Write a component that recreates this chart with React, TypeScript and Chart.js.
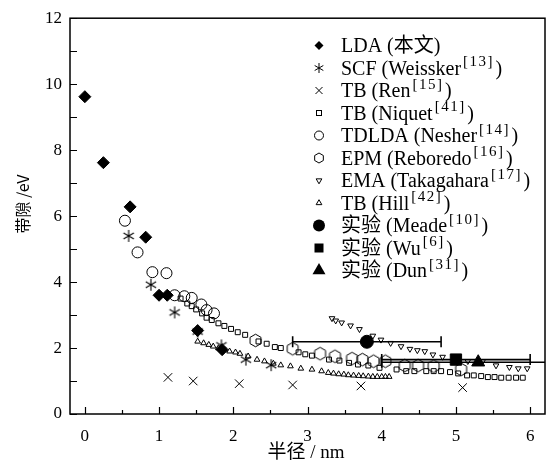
import React, { useEffect, useRef } from 'react';
import { Chart, registerables } from 'chart.js';

Chart.register(...registerables);

// ---------- data ----------
const ldaX = [0, 0.25, 0.61, 0.82, 1.0, 1.11, 1.52, 1.85];
const ldaY = [9.62, 7.62, 6.28, 5.36, 3.6, 3.6, 2.53, 1.95];

const scfX = [0.59, 0.89, 1.21, 1.52, 1.84, 2.17, 2.51];
const scfY = [5.4, 3.92, 3.08, 2.5, 2.08, 1.65, 1.48];

const renX = [1.12, 1.46, 2.08, 2.8, 3.72, 5.09];
const renY = [1.11, 1.0, 0.92, 0.88, 0.85, 0.8];

const niquetX = [1.29, 1.38, 1.44, 1.5, 1.58, 1.64, 1.71, 1.8, 1.88, 1.97, 2.06, 2.16, 2.34, 2.45, 2.56, 2.64, 2.88, 2.97, 3.06, 3.29, 3.43, 3.56, 3.68, 3.82, 3.97, 4.2, 4.33, 4.44, 4.6, 4.7, 4.8, 4.92, 5.03, 5.15, 5.24, 5.34, 5.43, 5.52, 5.61, 5.71, 5.81, 5.9];
const niquetY = [3.5, 3.35, 3.27, 3.17, 3.05, 2.92, 2.85, 2.75, 2.67, 2.58, 2.48, 2.4, 2.2, 2.13, 2.03, 2.0, 1.87, 1.81, 1.77, 1.65, 1.62, 1.55, 1.5, 1.47, 1.4, 1.35, 1.3, 1.3, 1.3, 1.3, 1.3, 1.27, 1.23, 1.17, 1.17, 1.15, 1.12, 1.12, 1.1, 1.1, 1.1, 1.1];

const tdldaX = [0.54, 0.71, 0.91, 1.1, 1.21, 1.34, 1.44, 1.57, 1.64, 1.74];
const tdldaY = [5.86, 4.9, 4.3, 4.27, 3.6, 3.57, 3.52, 3.32, 3.15, 3.05];

const epmX = [2.3, 2.8, 3.17, 3.37, 3.6, 3.74, 3.89, 4.05, 4.31, 4.49, 4.7, 5.07];
const epmY = [2.23, 1.98, 1.83, 1.75, 1.68, 1.65, 1.6, 1.6, 1.47, 1.47, 1.45, 1.35];

const emaX = [3.33, 3.38, 3.46, 3.58, 3.7, 3.88, 3.99, 4.12, 4.26, 4.38, 4.48, 4.58, 4.69, 4.82, 5.16, 5.36, 5.54, 5.72, 5.84, 5.96];
const emaY = [2.9, 2.83, 2.77, 2.68, 2.57, 2.37, 2.25, 2.15, 2.05, 1.97, 1.93, 1.9, 1.8, 1.73, 1.6, 1.6, 1.47, 1.42, 1.38, 1.38];

const hillX = [1.52, 1.6, 1.67, 1.73, 1.8, 1.95, 2.03, 2.09, 2.2, 2.32, 2.42, 2.54, 2.64, 2.77, 2.91, 3.06, 3.19, 3.28, 3.35, 3.42, 3.49, 3.55, 3.62, 3.69, 3.75, 3.82, 3.88, 3.94, 4.0, 4.05, 4.1];
const hillY = [2.2, 2.15, 2.1, 2.05, 2.0, 1.9, 1.87, 1.83, 1.75, 1.65, 1.6, 1.53, 1.48, 1.45, 1.38, 1.35, 1.3, 1.25, 1.23, 1.21, 1.2, 1.18, 1.17, 1.16, 1.15, 1.14, 1.13, 1.13, 1.13, 1.13, 1.13];

const meadeX = [3.8];
const meadeY = [2.19];
const meadeErr = [1.0];

const wuX = [5.0];
const wuY = [1.65];
const wuErr = [1.0];

const dunX = [5.3];
const dunY = [1.57];
const dunErr = [1.3];

const xTickValues = [0, 0.5, 1, 1.5, 2, 2.5, 3, 3.5, 4, 4.5, 5, 5.5, 6];
const yTickValues = [0, 1, 2, 3, 4, 5, 6, 7, 8, 9, 10, 11, 12];

const legendMain = ['LDA (本文)', 'SCF (Weissker', 'TB (Ren', 'TB (Niquet', 'TDLDA (Nesher', 'EPM (Reboredo', 'EMA (Takagahara', 'TB (Hill', '实验 (Meade', '实验 (Wu', '实验 (Dun'];
const legendSup = ['', '[13]', '[15]', '[41]', '[14]', '[16]', '[17]', '[42]', '[10]', '[6]', '[31]'];
const legendKinds = ['diamond', 'asterisk', 'cross', 'squareOpen', 'circleOpen', 'hexagon', 'triDownOpen', 'triUpOpen', 'circleFilled', 'squareFilled', 'triUpFilled'];

const xTitle = '半径 / nm';
const yTitle = '带隙 /eV';

// ---------- helpers ----------
const toPts = (xs: number[], ys: number[]) => xs.map((x, i) => ({ x, y: ys[i] }));

function pathAsterisk(ctx: CanvasRenderingContext2D, cx: number, cy: number, r: number) {
  ctx.beginPath();
  for (let k = 0; k < 3; k++) {
    const a = Math.PI / 2 + (k * Math.PI) / 3;
    ctx.moveTo(cx - Math.cos(a) * r, cy - Math.sin(a) * r);
    ctx.lineTo(cx + Math.cos(a) * r, cy + Math.sin(a) * r);
  }
}

function pathHexagon(ctx: CanvasRenderingContext2D, cx: number, cy: number, r: number) {
  ctx.beginPath();
  for (let k = 0; k < 6; k++) {
    const a = Math.PI / 2 + (k * Math.PI) / 3;
    const px = cx + Math.cos(a) * r;
    const py = cy + Math.sin(a) * r;
    if (k === 0) ctx.moveTo(px, py);
    else ctx.lineTo(px, py);
  }
  ctx.closePath();
}

function makeCanvas(kind: 'asterisk' | 'hexagon', r: number, lw: number) {
  const c = document.createElement('canvas');
  const s = Math.ceil(2 * r + 4);
  c.width = s;
  c.height = s;
  const ctx = c.getContext('2d')!;
  ctx.strokeStyle = '#000';
  ctx.lineWidth = lw;
  if (kind === 'asterisk') pathAsterisk(ctx, s / 2, s / 2, r);
  else pathHexagon(ctx, s / 2, s / 2, r);
  ctx.stroke();
  return c;
}

function drawSymbol(ctx: CanvasRenderingContext2D, kind: string, x: number, y: number) {
  ctx.save();
  ctx.strokeStyle = '#000';
  ctx.fillStyle = '#000';
  ctx.lineWidth = 1;
  const tri = (r: number, down: boolean) => {
    const s = down ? -1 : 1;
    ctx.beginPath();
    ctx.moveTo(x, y - s * r);
    ctx.lineTo(x + r * 0.866, y + s * r * 0.5);
    ctx.lineTo(x - r * 0.866, y + s * r * 0.5);
    ctx.closePath();
  };
  switch (kind) {
    case 'diamond':
      ctx.beginPath();
      ctx.moveTo(x, y - 4.5);
      ctx.lineTo(x + 4.5, y);
      ctx.lineTo(x, y + 4.5);
      ctx.lineTo(x - 4.5, y);
      ctx.closePath();
      ctx.fill();
      break;
    case 'asterisk':
      pathAsterisk(ctx, x, y, 5);
      ctx.stroke();
      break;
    case 'cross':
      ctx.beginPath();
      ctx.moveTo(x - 3.5, y - 3.5);
      ctx.lineTo(x + 3.5, y + 3.5);
      ctx.moveTo(x + 3.5, y - 3.5);
      ctx.lineTo(x - 3.5, y + 3.5);
      ctx.stroke();
      break;
    case 'squareOpen':
      ctx.strokeRect(x - 2.5, y - 2.5, 5, 5);
      break;
    case 'circleOpen':
      ctx.beginPath();
      ctx.arc(x, y, 4.5, 0, Math.PI * 2);
      ctx.stroke();
      break;
    case 'hexagon':
      pathHexagon(ctx, x, y, 5);
      ctx.stroke();
      break;
    case 'triDownOpen':
      tri(3.3, true);
      ctx.stroke();
      break;
    case 'triUpOpen':
      tri(3.3, false);
      ctx.stroke();
      break;
    case 'circleFilled':
      ctx.beginPath();
      ctx.arc(x, y, 6, 0, Math.PI * 2);
      ctx.fill();
      break;
    case 'squareFilled':
      ctx.fillRect(x - 4.5, y - 4.5, 9, 9);
      break;
    case 'triUpFilled':
      tri(7.5, false);
      ctx.fill();
      break;
  }
  ctx.restore();
}

const SERIF = '"Liberation Serif", "Noto Sans CJK SC", serif';

const decorPlugin = {
  id: 'decor',
  beforeDatasetsDraw(chart: any) {
    const { ctx, chartArea: a, scales } = chart;
    const xs = scales.x;
    const ys = scales.y;
    const bars = [
      { x: meadeX, y: meadeY, e: meadeErr },
      { x: wuX, y: wuY, e: wuErr },
      { x: dunX, y: dunY, e: dunErr },
    ];
    ctx.save();
    ctx.beginPath();
    ctx.rect(a.left, a.top, a.right - a.left, a.bottom - a.top);
    ctx.clip();
    ctx.strokeStyle = '#000';
    ctx.lineWidth = 1.6;
    bars.forEach((b) => {
      b.x.forEach((xv, i) => {
        const py = ys.getPixelForValue(b.y[i]);
        const p1 = xs.getPixelForValue(xv - b.e[i]);
        const p2 = xs.getPixelForValue(xv + b.e[i]);
        ctx.beginPath();
        ctx.moveTo(p1, py);
        ctx.lineTo(p2, py);
        ctx.moveTo(p1, py - 5.5);
        ctx.lineTo(p1, py + 5.5);
        ctx.moveTo(p2, py - 5.5);
        ctx.lineTo(p2, py + 5.5);
        ctx.stroke();
      });
    });
    ctx.restore();
  },
  afterDatasetsDraw(chart: any) {
    const { ctx, chartArea: a, scales } = chart;
    ctx.save();
    ctx.strokeStyle = '#000';
    ctx.lineWidth = 1.5;
    ctx.strokeRect(a.left, a.top, a.right - a.left, a.bottom - a.top);
    ctx.lineWidth = 1.2;
    ctx.beginPath();
    xTickValues.forEach((v) => {
      const px = Math.round(scales.x.getPixelForValue(v)) + 0.5;
      const len = Number.isInteger(v) ? 7 : 4;
      ctx.moveTo(px, a.bottom);
      ctx.lineTo(px, a.bottom - len);
    });
    yTickValues.forEach((v) => {
      const py = Math.round(scales.y.getPixelForValue(v)) + 0.5;
      ctx.moveTo(a.left, py);
      ctx.lineTo(a.left + 7, py);
    });
    ctx.stroke();
    ctx.restore();
  },
  afterDraw(chart: any) {
    const { ctx } = chart;
    ctx.save();
    // legend
    const row0 = 45.5;
    const dy = 22.5;
    legendMain.forEach((label, i) => {
      const cy = row0 + i * dy;
      drawSymbol(ctx, legendKinds[i], 319, cy);
      const base = cy + 6.5;
      ctx.fillStyle = '#000';
      ctx.textBaseline = 'alphabetic';
      ctx.textAlign = 'left';
      ctx.font = '20px ' + SERIF;
      ctx.fillText(label, 341, base);
      let sx = 341 + ctx.measureText(label).width;
      const sup = legendSup[i];
      if (sup) {
        sx += 2;
        ctx.font = '15px ' + SERIF;
        for (const ch of sup) {
          ctx.fillText(ch, sx, base - 8.5);
          sx += ctx.measureText(ch).width + 1.5;
        }
        ctx.font = '20px ' + SERIF;
        ctx.fillText(')', sx + 1.5, base);
      }
    });
    // axis titles
    ctx.fillStyle = '#000';
    ctx.textAlign = 'center';
    ctx.textBaseline = 'middle';
    ctx.font = '19px ' + SERIF;
    ctx.fillText(xTitle, 306, 453);
    ctx.translate(23, 204);
    ctx.rotate(-Math.PI / 2);
    ctx.font = '16px "Noto Sans CJK SC", "DejaVu Sans", sans-serif';
    ctx.fillText(yTitle, 0, 0);
    ctx.restore();
  },
};

export default function App() {
  const ref = useRef<HTMLCanvasElement | null>(null);

  useEffect(() => {
    if (!ref.current) return;
    const asterisk = makeCanvas('asterisk', 6, 1.1);
    const hexagon = makeCanvas('hexagon', 6.3, 1);
    const transparent = 'rgba(0,0,0,0)';

    const chart = new Chart(ref.current, {
      type: 'scatter',
      data: {
        datasets: [
          { label: 'TB (Niquet)', data: toPts(niquetX, niquetY), pointStyle: 'rect', pointRadius: 3.5, backgroundColor: transparent, borderColor: '#000', borderWidth: 1 },
          { label: 'TB (Hill)', data: toPts(hillX, hillY), pointStyle: 'triangle', pointRadius: 3.3, backgroundColor: transparent, borderColor: '#000', borderWidth: 1 },
          { label: 'EMA (Takagahara)', data: toPts(emaX, emaY), pointStyle: 'triangle', rotation: 180, pointRadius: 3.3, backgroundColor: transparent, borderColor: '#000', borderWidth: 1 },
          { label: 'EPM (Reboredo)', data: toPts(epmX, epmY), pointStyle: hexagon as any, pointRadius: 6 },
          { label: 'TDLDA (Nesher)', data: toPts(tdldaX, tdldaY), pointStyle: 'circle', pointRadius: 5.5, backgroundColor: transparent, borderColor: '#000', borderWidth: 1 },
          { label: 'TB (Ren)', data: toPts(renX, renY), pointStyle: 'crossRot', pointRadius: 6, borderColor: '#000', borderWidth: 1 },
          { label: 'SCF (Weissker)', data: toPts(scfX, scfY), pointStyle: asterisk as any, pointRadius: 6 },
          { label: 'LDA', data: toPts(ldaX, ldaY), pointStyle: 'rectRot', pointRadius: 6, backgroundColor: '#000', borderColor: '#000', borderWidth: 1 },
          { label: 'Meade', data: toPts(meadeX, meadeY), pointStyle: 'circle', pointRadius: 6.5, backgroundColor: '#000', borderColor: '#000', borderWidth: 1 },
          { label: 'Wu', data: toPts(wuX, wuY), pointStyle: 'rect', pointRadius: 8, backgroundColor: '#000', borderColor: '#000', borderWidth: 1 },
          { label: 'Dun', data: toPts(dunX, dunY), pointStyle: 'triangle', pointRadius: 7.5, backgroundColor: '#000', borderColor: '#000', borderWidth: 1 },
        ],
      },
      options: {
        animation: false,
        responsive: true,
        maintainAspectRatio: false,
        layout: { padding: { top: 15, right: 10, left: 0, bottom: 0 } },
        plugins: { legend: { display: false }, tooltip: { enabled: false } },
        scales: {
          x: {
            type: 'linear',
            min: -0.2,
            max: 6.2,
            grid: { display: false, drawTicks: false },
            border: { display: false },
            afterBuildTicks: (s: any) => {
              s.ticks = xTickValues.map((v) => ({ value: v }));
            },
            afterFit: (s: any) => {
              s.height = 53;
            },
            ticks: {
              autoSkip: false,
              maxRotation: 0,
              padding: 12,
              color: '#000',
              font: { family: SERIF, size: 17 },
              callback: (v: any) => (Number.isInteger(v) ? String(v) : ''),
            },
          },
          y: {
            type: 'linear',
            min: 0,
            max: 12,
            grid: { display: false, drawTicks: false },
            border: { display: false },
            afterBuildTicks: (s: any) => {
              s.ticks = yTickValues.map((v) => ({ value: v }));
            },
            afterFit: (s: any) => {
              s.width = 70;
            },
            ticks: {
              autoSkip: false,
              padding: 8,
              color: '#000',
              font: { family: SERIF, size: 17 },
              callback: (v: any) => (v % 2 === 0 ? String(v) : ''),
            },
          },
        },
      } as any,
      plugins: [decorPlugin],
    });
    return () => chart.destroy();
  }, []);

  return (
    <div style={{ position: 'absolute', left: 0, top: 0, width: 555, height: 467, background: '#fff' }}>
      <canvas ref={ref} />
    </div>
  );
}
